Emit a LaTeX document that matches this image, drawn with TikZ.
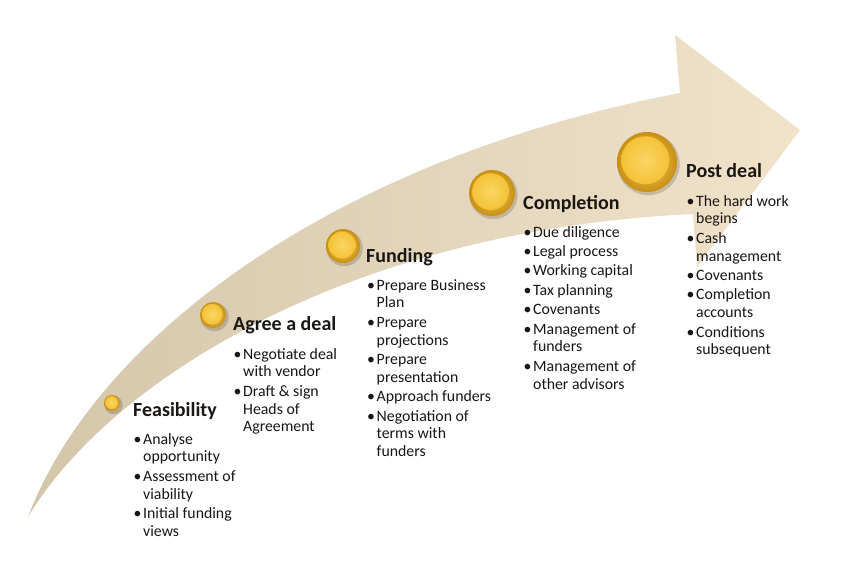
\documentclass[tikz,border=0pt]{standalone}
\usepackage{fontspec}
\setmainfont{Carlito}
\definecolor{arrowL}{RGB}{212,198,170}
\definecolor{arrowR}{RGB}{241,227,202}
\definecolor{coinIn}{RGB}{250,214,92}
\definecolor{coinOut}{RGB}{200,142,20}
\definecolor{coinFace}{RGB}{244,194,56}
\definecolor{coinHi}{RGB}{250,214,100}
\definecolor{txt}{RGB}{25,22,20}
\newcommand{\bl}{\makebox[10pt][l]{\hspace{0.3pt}\textbullet}}
\newcommand{\blist}[1]{{\fontsize{15.8}{17.8}\selectfont\begin{tabular}[t]{@{}l@{}l@{}}#1\end{tabular}}}
\tikzset{
  stagetitle/.style={anchor=base west, inner sep=0pt, text=txt, font=\bfseries\fontsize{20}{24}\selectfont},
  stagelist/.style={anchor=base west, inner sep=0pt, text=txt},
}
\newcommand{\coin}[3]{%
  \fill[black, opacity=0.16] (#1+1.5,#2+2) circle[radius=#3+1.2];
  \shade[inner color=coinIn, outer color=coinOut] (#1,#2) circle[radius=#3];
  \shade[inner color=coinHi, outer color=coinFace] (#1-0.06*#3,#2-0.06*#3) circle[radius=0.8*#3];
}
\begin{document}
\begin{tikzpicture}[x=1pt,y=-1pt]
\useasboundingbox (0,0) rectangle (858,571);
\fill[white] (0,0) rectangle (858,571);
% arrow
\shade[left color=arrowL, right color=arrowR]
  (28,517) .. controls (95,340) and (330,160) .. (680,93)
  -- (675,35) -- (800,130) -- (697,267) -- (693,214)
  .. controls (350,230) and (110,380) .. (28,517) -- cycle;
% coins
\coin{112}{403}{8}
\coin{213}{315}{13}
\coin{343}{246}{17}
\coin{492}{193}{23}
\coin{647}{162}{30}
% titles
\node[stagetitle] (t1) at (133,416) {Feasibility};
\node[stagetitle] (t2) at (233,330) {Agree a deal};
\node[stagetitle] (t3) at (366,262) {Funding};
\node[stagetitle] (t4) at (523,209) {Completion};
\node[stagetitle] (t5) at (686,177) {Post deal};
% lists
\node[stagelist] (l1) at (133,444) {\blist{\bl & Analyse\\ & opportunity\\[1.6pt] \bl & Assessment of\\ & viability\\[1.6pt] \bl & Initial funding\\ & views}};
\node[stagelist] (l2) at (233,359) {\blist{\bl & Negotiate deal\\ & with vendor\\[1.6pt] \bl & Draft \& sign\\ & Heads of\\ & Agreement}};
\node[stagelist] (l3) at (366.5,290) {\blist{\bl & Prepare Business\\ & Plan\\[1.6pt] \bl & Prepare\\ & projections\\[1.6pt] \bl & Prepare\\ & presentation\\[1.6pt] \bl & Approach funders\\[1.6pt] \bl & Negotiation of\\ & terms with\\ & funders}};
\node[stagelist] (l4) at (523,237) {\blist{\bl & Due diligence\\[1.6pt] \bl & Legal process\\[1.6pt] \bl & Working capital\\[1.6pt] \bl & Tax planning\\[1.6pt] \bl & Covenants\\[1.6pt] \bl & Management of\\ & funders\\[1.6pt] \bl & Management of\\ & other advisors}};
\node[stagelist] (l5) at (686,206) {\blist{\bl & The hard work\\ & begins\\[1.6pt] \bl & Cash\\ & management\\[1.6pt] \bl & Covenants\\[1.6pt] \bl & Completion\\ & accounts\\[1.6pt] \bl & Conditions\\ & subsequent}};
\end{tikzpicture}
\end{document}
